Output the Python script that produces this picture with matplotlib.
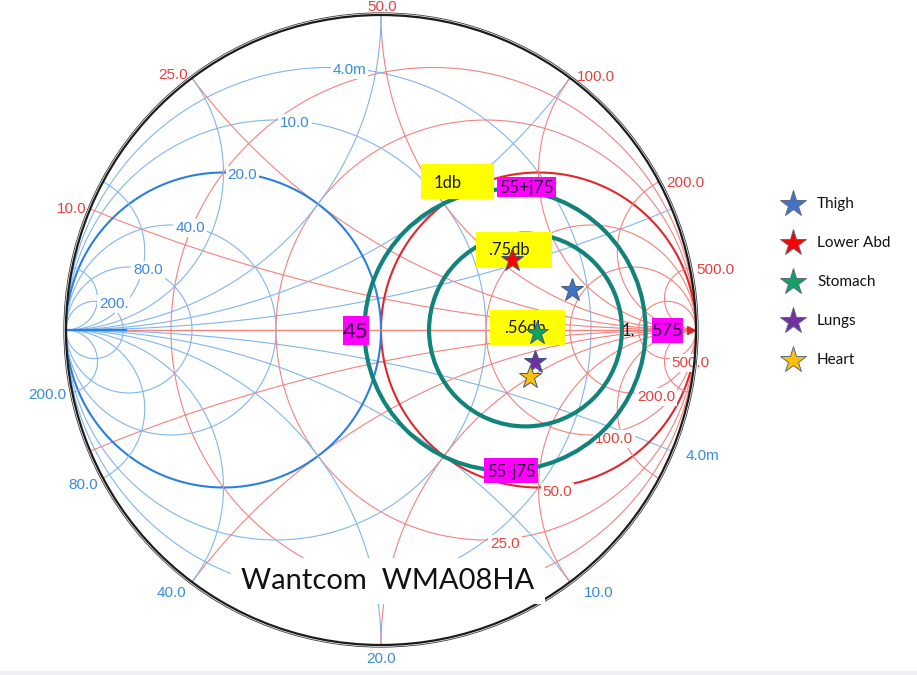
import numpy as np
import matplotlib
matplotlib.use('Agg')
import matplotlib.pyplot as plt
from matplotlib.patches import Circle, Rectangle

Z0 = 50.0

# chart grid (normalised values) and their labels
grid_vals = [0.2, 0.5, 1.0, 2.0, 4.0, 10.0]
r_labels = ['10.0', '25.0', '50.0', '100.0', '200.0', '500.0']
x_labels = ['10.0', '25.0', '50.0', '100.0', '200.0', '500.0']
g_labels = ['4.0m', '10.0', '20.0', '40.0', '80.0', '200.']
b_labels = ['4.0m', '10.0', '20.0', '40.0', '80.0', '200.0']

# measured antenna impedance on the body (ohms)
tissue = ['Thigh', 'Lower Abd', 'Stomach', 'Lungs', 'Heart']
tissue_R = [180, 100, 148, 138, 126]
tissue_X = [74, 57, -4, -37, -50]
tissue_col = ['#4472c4', '#ff0000', '#13a064', '#7030a0', '#ffc000']

# loss circles, given by where they cross the real axis (ohms)
loss_lo = [45, 68]
loss_hi = [575, 375]

# marked impedances (ohms)
mark_z = [45 + 0j, 575 + 0j, 55 + 75j, 55 - 75j]
mark_txt = ['45', '575', '55+j75', '55-j75']

RED, RED_B, RED_T = '#f4827e', '#e3262b', '#e8403e'
BLUE, BLUE_B, BLUE_T = '#80b6ec', '#2b7fe0', '#3a8be0'
TEAL = '#12837a'


def gamma(z):
    zn = np.asarray(z, dtype=complex) / Z0
    return (zn - 1) / (zn + 1)


def px(x, y):
    # picture pixel -> chart coordinates (layout only)
    return (x - 381) / 315.0, (330 - y) / 315.0


fig = plt.figure(figsize=(9.17, 6.75), dpi=100)
ax = fig.add_axes([0, 0, 1, 1])
ax.set_xlim(px(0, 0)[0], px(917, 0)[0])
ax.set_ylim(px(0, 675)[1], px(0, 0)[1])
ax.axis('off')


def arc(cx, cy, rad, **kw):
    t = np.linspace(0, 2 * np.pi, 6000)
    x = cx + rad * np.cos(t)
    y = cy + rad * np.sin(t)
    out = x ** 2 + y ** 2 > 1.0 + 1e-9
    x[out] = np.nan
    y[out] = np.nan
    ax.plot(x, y, solid_capstyle='butt', **kw)


lab = dict(family='Liberation Sans', fontsize=11, zorder=3,
           bbox=dict(boxstyle='square,pad=0.12', fc='white', ec='none'))

# impedance grid (red) and admittance grid (blue)
for v in grid_vals:
    bold = v == 1.0
    arc(v / (1 + v), 0, 1 / (1 + v), color=RED_B if bold else RED, lw=1.5 if bold else 0.8, zorder=1)
    arc(-v / (1 + v), 0, 1 / (1 + v), color=BLUE_B if bold else BLUE, lw=1.5 if bold else 0.8, zorder=1)
    for s in (1, -1):
        arc(1, s / v, 1 / v, color=RED, lw=0.8, zorder=1)
        arc(-1, -s / v, 1 / v, color=BLUE, lw=0.8, zorder=1)

ax.plot([-1, 1], [0, 0], color=RED, lw=1.0, zorder=1)
ax.plot([-1, -0.81], [0, 0], color=BLUE_B, lw=1.6, zorder=1)
ax.plot([0.985], [0], marker='>', color=RED_B, ms=6, zorder=2)

for i, v in enumerate(grid_vals):
    # resistance labels at the bottom of each r circle (the 10 ohm one sits under the title)
    if i > 0:
        ax.annotate(r_labels[i], (v / (1 + v), -1 / (1 + v)), xytext=(3, -3),
                    textcoords='offset points', ha='left', va='center', color=RED_T, **lab)
    # conductance labels at the top of each g circle
    ax.annotate(g_labels[i], (-v / (1 + v), 1 / (1 + v)), xytext=(3, -2),
                textcoords='offset points', ha='left', va='center', color=BLUE_T, **lab)
    # reactance labels on the rim (upper half)
    ex, ey = (v * v - 1) / (v * v + 1), 2 * v / (v * v + 1)
    if abs(ex) < 0.05:
        ha, dx, dy = 'center', 1, 6
    elif ex < 0:
        ha, dx, dy = 'right', -3, 5 * ey - 2
    else:
        ha, dx, dy = 'left', 5, 5 * ey - 3
    ax.annotate(x_labels[i], (ex, ey), xytext=(dx, dy), textcoords='offset points',
                ha=ha, va='center', color=RED_T, **lab)
    # susceptance labels on the rim (lower half)
    ex, ey = (1 - v * v) / (1 + v * v), -2 * v / (1 + v * v)
    if abs(ex) < 0.05:
        ha, dx = 'center', 0
    elif ex < 0:
        ha, dx = 'right', -4
    else:
        ha, dx = 'left', 10
    ax.annotate(b_labels[i], (ex, ey), xytext=(dx, 10 * ey), textcoords='offset points',
                ha=ha, va='center', color=BLUE_T, **lab)

# outer rim
ax.add_patch(Circle((0, 0), 1.0, fill=False, ec='#1c1c1c', lw=1.6, zorder=4))
ax.add_patch(Circle((0, 0), 1.007, fill=False, ec='#3c3c3c', lw=0.6, zorder=4))

# loss circles
for lo, hi in zip(loss_lo, loss_hi):
    g1, g2 = gamma(lo).real, gamma(hi).real
    ax.add_patch(Circle(((g1 + g2) / 2, 0), (g2 - g1) / 2, fill=False, ec=TEAL, lw=3, zorder=5))


# annotation boxes
def box(x0, y0, x1, y1, color):
    a, b = px(x0, y1)
    c, d = px(x1, y0)
    ax.add_patch(Rectangle((a, b), c - a, d - b, fc=color, ec='none', zorder=6))


callout = dict(family='Lato', fontsize=12, color='#1a1a1a', va='center', zorder=7)
box(421, 164, 494, 199, '#ffff00')
ax.text(*px(448, 183), '1db', ha='center', **callout)
box(476, 232, 552, 268, '#ffff00')
ax.text(*px(509, 250), '.75db', ha='center', **callout)
box(490, 310, 565, 345, '#ffff00')
ax.text(*px(525, 328), '.56db', ha='center', **callout)

mag_boxes = [(343, 316, 369, 345), (652, 318, 683, 343), (497, 177, 556, 197), (484, 458, 538, 483)]
mag_size = [16, 13, 12.5, 12]
for z, t, bx, fs in zip(mark_z, mark_txt, mag_boxes, mag_size):
    box(*bx, '#ff00ff')
    ax.text(*px((bx[0] + bx[2]) / 2, (bx[1] + bx[3]) / 2 + 1), t, ha='center',
            **{**callout, 'fontsize': fs, 'color': '#2a0040'})
ax.text(*px(628, 331), '1.', ha='center', **callout)

# title block (white box hides the grid below it)
ax.text(*px(388, 581), 'Wantcom  WMA08HA', family='Lato', fontsize=21, color='#111111',
        ha='center', va='center', zorder=8,
        bbox=dict(boxstyle='square,pad=0.35', fc='white', ec='none'))

# measured points
g_t = gamma(np.array(tissue_R) + 1j * np.array(tissue_X))
for i in range(len(tissue)):
    ax.plot(g_t[i].real, g_t[i].imag, marker='*', ms=17, color=tissue_col[i],
            mec='#3d5a80', mew=0.7, zorder=9)

# legend
for i, name in enumerate(tissue):
    ax.plot(*px(793, 204 + 39 * i), marker='*', ms=20, color=tissue_col[i],
            mec='#5a6a80', mew=0.7, zorder=9)
    ax.text(*px(817, 204 + 39 * i), name, family='Lato', fontsize=11, color='#111111',
            ha='left', va='center')

# thin grey strip along the bottom edge of the screenshot
a, b = px(0, 675)
ax.add_patch(Rectangle((a, b), 917 / 315.0, 4 / 315.0, fc='#eef0f3', ec='none', zorder=0))

fig.savefig('out.png', dpi=100)
